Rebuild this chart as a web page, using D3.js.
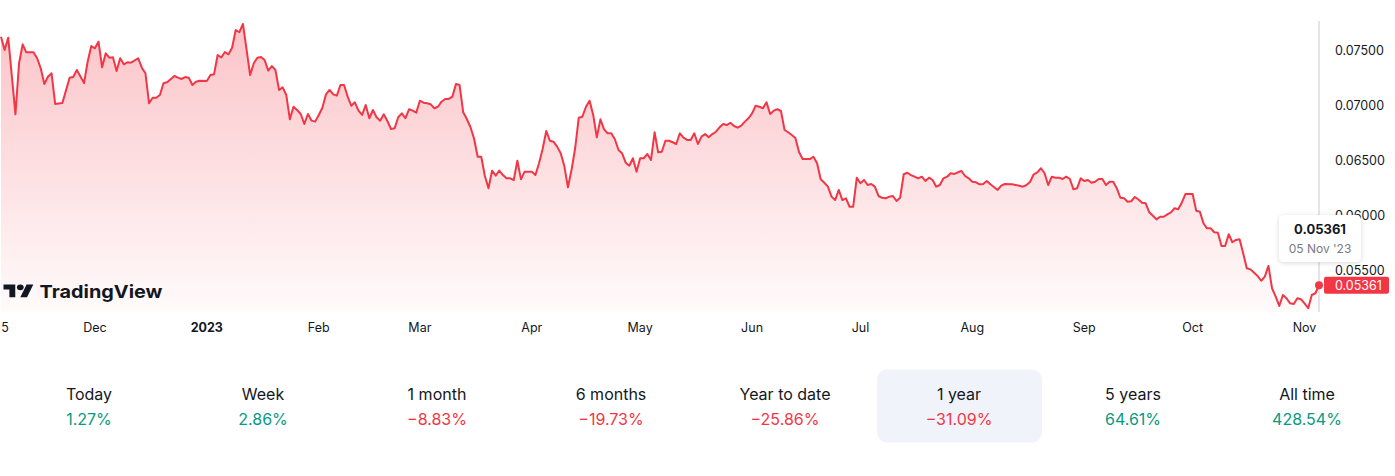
<!DOCTYPE html>
<html>
<head>
<meta charset="utf-8">
<script src="https://cdn.jsdelivr.net/npm/d3@7"></script>
<style>
  html, body { margin: 0; padding: 0; background: #fff; }
  svg { display: block; }
</style>
</head>
<body>
<svg id="chart" width="1395" height="476"></svg>
<script>
// daily closes
var dates = [
  "2022-11-05","2022-11-06","2022-11-07","2022-11-09","2022-11-10","2022-11-11","2022-11-12","2022-11-14","2022-11-15","2022-11-16",
  "2022-11-17","2022-11-18","2022-11-19","2022-11-20","2022-11-22","2022-11-24","2022-11-25","2022-11-26","2022-11-28","2022-11-29",
  "2022-11-30","2022-12-01","2022-12-02","2022-12-03","2022-12-04","2022-12-05","2022-12-06","2022-12-07","2022-12-08","2022-12-09",
  "2022-12-10","2022-12-11","2022-12-13","2022-12-14","2022-12-15","2022-12-16","2022-12-17","2022-12-18","2022-12-19","2022-12-20",
  "2022-12-21","2022-12-23","2022-12-24","2022-12-25","2022-12-26","2022-12-27","2022-12-28","2022-12-29","2022-12-30","2023-01-01",
  "2023-01-02","2023-01-03","2023-01-04","2023-01-05","2023-01-06","2023-01-07","2023-01-08","2023-01-09","2023-01-10","2023-01-11",
  "2023-01-13","2023-01-14","2023-01-15","2023-01-16","2023-01-17","2023-01-18","2023-01-19","2023-01-20","2023-01-21","2023-01-22",
  "2023-01-23","2023-01-24","2023-01-25","2023-01-26","2023-01-27","2023-01-28","2023-01-29","2023-01-30","2023-01-31","2023-02-01",
  "2023-02-02","2023-02-03","2023-02-04","2023-02-05","2023-02-06","2023-02-07","2023-02-08","2023-02-09","2023-02-10","2023-02-11",
  "2023-02-12","2023-02-13","2023-02-14","2023-02-15","2023-02-16","2023-02-17","2023-02-18","2023-02-19","2023-02-20","2023-02-21",
  "2023-02-22","2023-02-23","2023-02-24","2023-02-25","2023-02-26","2023-02-27","2023-02-28","2023-03-01","2023-03-02","2023-03-03",
  "2023-03-04","2023-03-05","2023-03-06","2023-03-07","2023-03-08","2023-03-09","2023-03-10","2023-03-11","2023-03-12","2023-03-13",
  "2023-03-14","2023-03-15","2023-03-16","2023-03-17","2023-03-18","2023-03-19","2023-03-20","2023-03-21","2023-03-22","2023-03-23",
  "2023-03-24","2023-03-25","2023-03-26","2023-03-27","2023-03-28","2023-03-29","2023-03-30","2023-04-01","2023-04-02","2023-04-03",
  "2023-04-04","2023-04-05","2023-04-06","2023-04-07","2023-04-08","2023-04-09","2023-04-10","2023-04-11","2023-04-12","2023-04-13",
  "2023-04-14","2023-04-15","2023-04-16","2023-04-17","2023-04-18","2023-04-19","2023-04-20","2023-04-21","2023-04-22","2023-04-23",
  "2023-04-24","2023-04-25","2023-04-26","2023-04-27","2023-04-28","2023-04-29","2023-04-30","2023-05-01","2023-05-02","2023-05-03",
  "2023-05-04","2023-05-05","2023-05-06","2023-05-07","2023-05-08","2023-05-09","2023-05-10","2023-05-11","2023-05-12","2023-05-13",
  "2023-05-14","2023-05-15","2023-05-16","2023-05-17","2023-05-18","2023-05-19","2023-05-20","2023-05-21","2023-05-22","2023-05-23",
  "2023-05-24","2023-05-25","2023-05-26","2023-05-27","2023-05-28","2023-05-29","2023-05-30","2023-05-31","2023-06-01","2023-06-02",
  "2023-06-03","2023-06-04","2023-06-05","2023-06-06","2023-06-07","2023-06-08","2023-06-09","2023-06-10","2023-06-11","2023-06-12",
  "2023-06-13","2023-06-14","2023-06-15","2023-06-16","2023-06-17","2023-06-18","2023-06-19","2023-06-20","2023-06-21","2023-06-22",
  "2023-06-23","2023-06-24","2023-06-25","2023-06-26","2023-06-27","2023-06-28","2023-06-29","2023-06-30","2023-07-01","2023-07-02",
  "2023-07-03","2023-07-04","2023-07-05","2023-07-06","2023-07-07","2023-07-08","2023-07-09","2023-07-10","2023-07-11","2023-07-12",
  "2023-07-13","2023-07-14","2023-07-15","2023-07-16","2023-07-17","2023-07-18","2023-07-19","2023-07-20","2023-07-21","2023-07-22",
  "2023-07-23","2023-07-24","2023-07-25","2023-07-26","2023-07-27","2023-07-28","2023-07-29","2023-07-30","2023-07-31","2023-08-01",
  "2023-08-02","2023-08-03","2023-08-04","2023-08-05","2023-08-06","2023-08-08","2023-08-09","2023-08-10","2023-08-12","2023-08-14",
  "2023-08-15","2023-08-16","2023-08-17","2023-08-18","2023-08-19","2023-08-20","2023-08-21","2023-08-22","2023-08-23","2023-08-24",
  "2023-08-25","2023-08-26","2023-08-27","2023-08-28","2023-08-29","2023-08-30","2023-08-31","2023-09-01","2023-09-02","2023-09-03",
  "2023-09-04","2023-09-05","2023-09-06","2023-09-07","2023-09-08","2023-09-09","2023-09-10","2023-09-11","2023-09-12","2023-09-13",
  "2023-09-14","2023-09-15","2023-09-16","2023-09-17","2023-09-18","2023-09-19","2023-09-21","2023-09-22","2023-09-23","2023-09-24",
  "2023-09-25","2023-09-26","2023-09-27","2023-09-28","2023-09-29","2023-10-01","2023-10-02","2023-10-03","2023-10-04","2023-10-05",
  "2023-10-06","2023-10-07","2023-10-08","2023-10-09","2023-10-10","2023-10-11","2023-10-12","2023-10-13","2023-10-14","2023-10-15",
  "2023-10-16","2023-10-17","2023-10-19","2023-10-20","2023-10-21","2023-10-22","2023-10-23","2023-10-24","2023-10-25","2023-10-26",
  "2023-10-27","2023-10-28","2023-10-29","2023-10-30","2023-10-31","2023-11-01","2023-11-02","2023-11-03","2023-11-04","2023-11-05"
];

var prices = [
  0.07628,0.07506,0.07619,0.06920,0.07385,0.07558,0.07485,0.07485,0.07431,0.07340,
  0.07196,0.07263,0.07294,0.07014,0.07023,0.07254,0.07260,0.07324,0.07205,0.07400,
  0.07543,0.07522,0.07582,0.07349,0.07476,0.07436,0.07440,0.07315,0.07431,0.07376,
  0.07394,0.07391,0.07431,0.07345,0.07294,0.07020,0.07071,0.07071,0.07096,0.07203,
  0.07212,0.07269,0.07254,0.07242,0.07260,0.07254,0.07187,0.07217,0.07226,0.07224,
  0.07278,0.07285,0.07461,0.07438,0.07488,0.07467,0.07527,0.07689,0.07668,0.07744,
  0.07278,0.07385,0.07436,0.07443,0.07415,0.07318,0.07360,0.07324,0.07142,0.07166,
  0.07096,0.06874,0.06989,0.06959,0.06923,0.06832,0.06923,0.06862,0.06853,0.06914,
  0.06980,0.07102,0.07142,0.07102,0.07090,0.07187,0.07187,0.07081,0.06998,0.07029,
  0.06953,0.06914,0.07005,0.06884,0.06959,0.06893,0.06862,0.06920,0.06859,0.06786,
  0.06792,0.06893,0.06929,0.06884,0.06966,0.06953,0.06935,0.07044,0.07026,0.07020,
  0.07011,0.06975,0.06989,0.07035,0.07060,0.07060,0.07081,0.07196,0.07187,0.06938,
  0.06877,0.06804,0.06699,0.06533,0.06533,0.06357,0.06245,0.06406,0.06360,0.06406,
  0.06366,0.06336,0.06336,0.06321,0.06497,0.06327,0.06397,0.06397,0.06366,0.06473,
  0.06604,0.06768,0.06679,0.06670,0.06625,0.06564,0.06449,0.06254,0.06412,0.06610,
  0.06889,0.06898,0.06989,0.07044,0.06914,0.06710,0.06874,0.06783,0.06747,0.06747,
  0.06692,0.06594,0.06564,0.06479,0.06451,0.06519,0.06397,0.06519,0.06519,0.06558,
  0.06503,0.06756,0.06573,0.06579,0.06679,0.06679,0.06665,0.06649,0.06747,0.06707,
  0.06686,0.06686,0.06747,0.06649,0.06716,0.06740,0.06710,0.06740,0.06761,0.06801,
  0.06832,0.06822,0.06843,0.06813,0.06798,0.06816,0.06853,0.06884,0.06929,0.06998,
  0.06989,0.06975,0.07029,0.06923,0.06953,0.06966,0.06950,0.06777,0.06756,0.06731,
  0.06704,0.06576,0.06512,0.06512,0.06512,0.06533,0.06473,0.06327,0.06296,0.06260,
  0.06169,0.06138,0.06230,0.06138,0.06154,0.06077,0.06077,0.06342,0.06291,0.06321,
  0.06275,0.06284,0.06260,0.06175,0.06159,0.06154,0.06169,0.06175,0.06129,0.06159,
  0.06373,0.06387,0.06366,0.06351,0.06336,0.06351,0.06312,0.06342,0.06321,0.06260,
  0.06275,0.06336,0.06351,0.06382,0.06376,0.06391,0.06403,0.06357,0.06336,0.06305,
  0.06300,0.06282,0.06284,0.06312,0.06282,0.06230,0.06269,0.06284,0.06282,0.06269,
  0.06260,0.06275,0.06305,0.06373,0.06391,0.06428,0.06382,0.06275,0.06351,0.06342,
  0.06342,0.06330,0.06351,0.06330,0.06236,0.06245,0.06336,0.06312,0.06321,0.06296,
  0.06305,0.06330,0.06330,0.06275,0.06305,0.06305,0.06245,0.06159,0.06154,0.06123,
  0.06127,0.06166,0.06143,0.06114,0.06108,0.06026,0.05962,0.05986,0.05986,0.06008,
  0.06026,0.06063,0.06054,0.06114,0.06193,0.06193,0.06041,0.06032,0.05926,0.05880,
  0.05880,0.05844,0.05840,0.05719,0.05719,0.05826,0.05753,0.05774,0.05780,0.05652,
  0.05516,0.05506,0.05445,0.05402,0.05439,0.05537,0.05333,0.05257,0.05172,0.05272,
  0.05242,0.05196,0.05190,0.05242,0.05233,0.05196,0.05151,0.05272,0.05288,0.05361
];

// price scale ticks
var yTicks = [0.055, 0.060, 0.065, 0.070, 0.075];

// time scale ticks
var xTickDates = ["2022-11-05","2022-12-01","2023-01-01","2023-02-01","2023-03-01","2023-04-01",
                  "2023-05-01","2023-06-01","2023-07-01","2023-08-01","2023-09-01","2023-10-01","2023-11-01"];
var xTickLabels = ["5","Dec","2023","Feb","Mar","Apr","May","Jun","Jul","Aug","Sep","Oct","Nov"];

// performance row
var periods = ["Today","Week","1 month","6 months","Year to date","1 year","5 years","All time"];
var changes = [1.27, 2.86, -8.83, -19.73, -25.86, -31.09, 64.61, 428.54];
var selectedPeriod = "1 year";

var RED = "#F23645";
var GREEN = "#089981";
var TEXT = "#131722";
var FONT = "Inter, Roboto, 'Noto Sans', sans-serif";

var parse = d3.utcParse("%Y-%m-%d");
var data = dates.map(function(d, i) {
    return {"date": parse(d), "value": prices[i]};
});

var svg = d3.select("#chart");

var plotTop = 20;
var plotBottom = 312;

var x = d3.scaleUtc()
    .domain([parse(dates[0]), parse(dates[dates.length - 1])])
    .range([1, 1319]);

var y = d3.scaleLinear()
    .domain([0.055, 0.075])
    .range([270, 50.7]);

// area gradient
var defs = svg.append("defs");
var grad = defs.append("linearGradient")
    .attr("id", "area_grad")
    .attr("gradientUnits", "userSpaceOnUse")
    .attr("x1", 0).attr("x2", 0)
    .attr("y1", plotTop).attr("y2", plotBottom);
grad.append("stop").attr("offset", 0).attr("stop-color", RED).attr("stop-opacity", 0.3);
grad.append("stop").attr("offset", 1).attr("stop-color", RED).attr("stop-opacity", 0.02);

var shadow = defs.append("filter")
    .attr("id", "tip_shadow")
    .attr("x", "-30%").attr("y", "-30%")
    .attr("width", "160%").attr("height", "160%");
shadow.append("feDropShadow")
    .attr("dx", 0).attr("dy", 1)
    .attr("stdDeviation", 2.5)
    .attr("flood-color", "#000")
    .attr("flood-opacity", 0.15);

svg.append("path")
    .datum(data)
    .attr("fill", "url(#area_grad)")
    .attr("d", d3.area()
        .x(function(d) { return x(d.date); })
        .y0(plotBottom)
        .y1(function(d) { return y(d.value); }));

// crosshair on the last point
var last = data[data.length - 1];
svg.append("line")
    .attr("x1", x(last.date)).attr("x2", x(last.date))
    .attr("y1", plotTop + 1).attr("y2", plotBottom)
    .attr("stroke", "#c7cad3")
    .attr("stroke-width", 1);

svg.append("path")
    .datum(data)
    .attr("fill", "none")
    .attr("stroke", RED)
    .attr("stroke-width", 2)
    .attr("stroke-linejoin", "round")
    .attr("d", d3.line()
        .x(function(d) { return x(d.date); })
        .y(function(d) { return y(d.value); }));

// price scale labels
svg.selectAll()
    .data(yTicks)
    .enter()
    .append("text")
    .attr("x", 1335)
    .attr("y", function(d) { return y(d); })
    .attr("dy", "0.36em")
    .attr("font-family", FONT)
    .attr("font-size", "12.5px")
    .attr("fill", TEXT)
    .text(d3.format(".5f"));

// time scale labels
svg.selectAll()
    .data(xTickDates)
    .enter()
    .append("text")
    .attr("x", function(d, i) { return Math.max(x(parse(d)), 5); })
    .attr("y", 332)
    .attr("text-anchor", "middle")
    .attr("font-family", FONT)
    .attr("font-size", "12.5px")
    .attr("font-weight", function(d, i) { return xTickLabels[i] == "2023" ? 700 : 400; })
    .attr("fill", TEXT)
    .text(function(d, i) { return xTickLabels[i]; });

// last price marker
svg.append("circle")
    .attr("cx", x(last.date))
    .attr("cy", y(last.value))
    .attr("r", 4)
    .attr("fill", RED);

svg.append("rect")
    .attr("x", 1324).attr("y", y(last.value) - 8.5)
    .attr("width", 65).attr("height", 17)
    .attr("rx", 2)
    .attr("fill", RED);
svg.append("text")
    .attr("x", 1335)
    .attr("y", y(last.value))
    .attr("dy", "0.36em")
    .attr("font-family", FONT)
    .attr("font-size", "12.5px")
    .attr("fill", "#fff")
    .text(d3.format(".5f")(last.value));

// tooltip
var tip = svg.append("g");
tip.append("rect")
    .attr("x", 1279).attr("y", 215)
    .attr("width", 82).attr("height", 47)
    .attr("rx", 5)
    .attr("fill", "#fff")
    .attr("filter", "url(#tip_shadow)");
tip.append("text")
    .attr("x", x(last.date) + 1)
    .attr("y", 234)
    .attr("text-anchor", "middle")
    .attr("font-family", FONT)
    .attr("font-size", "13px")
    .attr("font-weight", 700)
    .attr("fill", TEXT)
    .text(d3.format(".5f")(last.value));
tip.append("text")
    .attr("x", x(last.date) + 1)
    .attr("y", 252.5)
    .attr("text-anchor", "middle")
    .attr("font-family", FONT)
    .attr("font-size", "12px")
    .attr("fill", "#787B86")
    .text(d3.utcFormat("%d %b '%y")(last.date));

// TradingView logo
var logo = svg.append("g").attr("transform", "translate(3.5,281.5)");
logo.append("g")
    .attr("transform", "scale(0.84,0.72)")
    .attr("fill", TEXT)
    .call(function(g) {
        g.append("path").attr("d", "M14 22H7V11H0V4h14v18zM28 22h-8l7.5-18h8L28 22z");
        g.append("circle").attr("cx", 20).attr("cy", 8).attr("r", 4);
    });
logo.append("text")
    .attr("x", 36)
    .attr("y", 16)
    .attr("font-family", FONT)
    .attr("font-size", "18px")
    .attr("font-weight", 700)
    .attr("textLength", 123)
    .attr("lengthAdjust", "spacingAndGlyphs")
    .attr("fill", TEXT)
    .text("TradingView");

// performance row
var colX = d3.scaleBand()
    .domain(periods)
    .range([2, 1394]);

svg.selectAll()
    .data(periods.filter(function(d) { return d == selectedPeriod; }))
    .enter()
    .append("rect")
    .attr("x", function(d) { return colX(d) + 5; })
    .attr("y", 369.5)
    .attr("width", colX.bandwidth() - 9)
    .attr("height", 73)
    .attr("rx", 10)
    .attr("fill", "#F0F3FA");

svg.selectAll()
    .data(periods)
    .enter()
    .append("text")
    .attr("x", function(d) { return colX(d) + colX.bandwidth() / 2; })
    .attr("y", 400)
    .attr("text-anchor", "middle")
    .attr("font-family", FONT)
    .attr("font-size", "16px")
    .attr("fill", TEXT)
    .text(function(d) { return d; });

svg.selectAll()
    .data(changes)
    .enter()
    .append("text")
    .attr("x", function(d, i) { return colX(periods[i]) + colX.bandwidth() / 2; })
    .attr("y", 424.5)
    .attr("text-anchor", "middle")
    .attr("font-family", FONT)
    .attr("font-size", "16px")
    .attr("fill", function(d) { return d < 0 ? RED : GREEN; })
    .text(function(d) {
        return (d < 0 ? "\u2212" : "") + Math.abs(d).toFixed(2) + "%";
    });
</script>
</body>
</html>
